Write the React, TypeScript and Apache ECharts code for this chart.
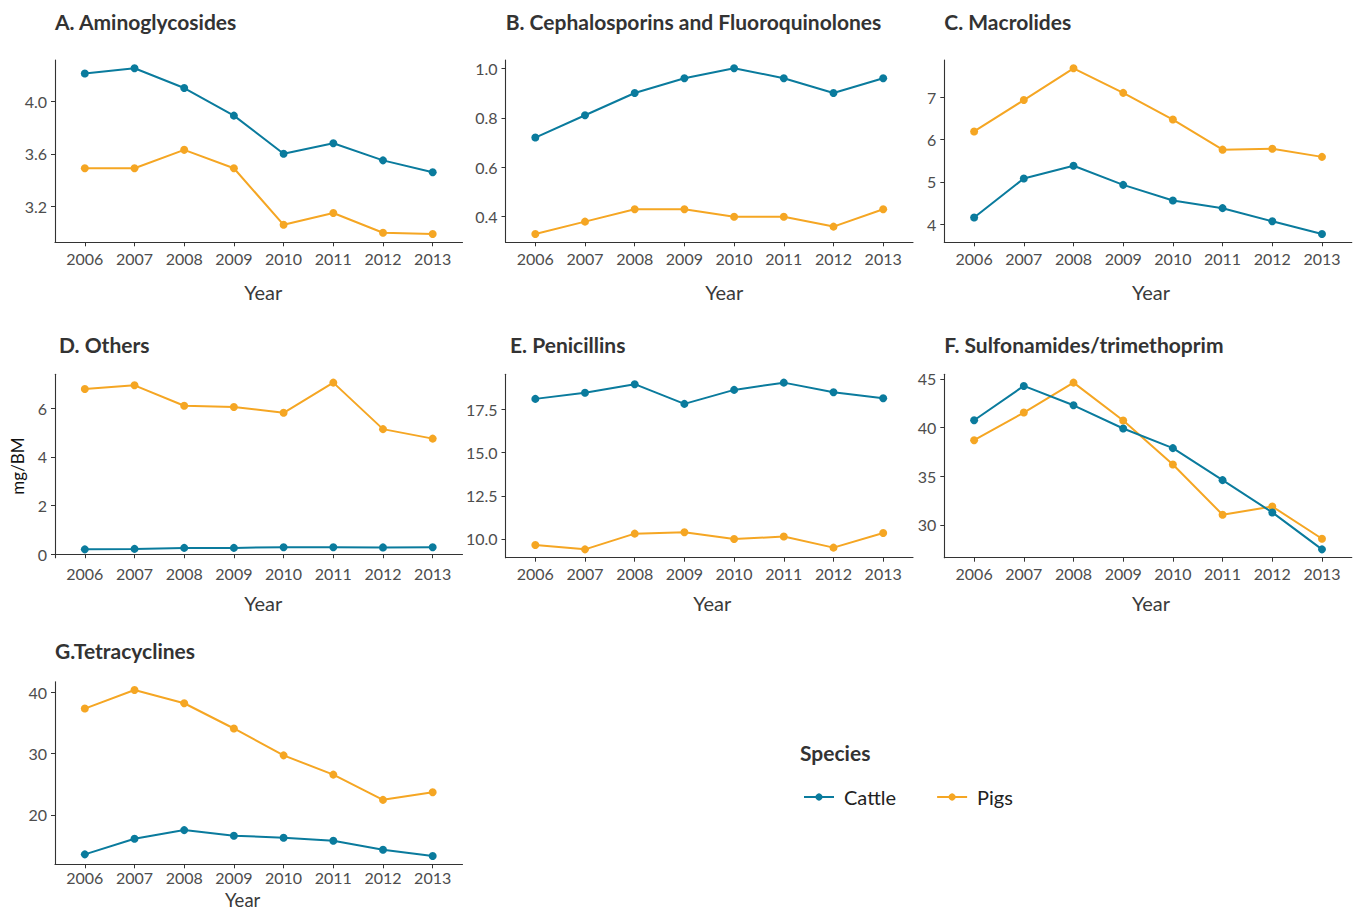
import React, { useEffect, useRef } from "react";
import * as echarts from "echarts";

const years = [2006, 2007, 2008, 2009, 2010, 2011, 2012, 2013];

const aminoCattle = [4.21, 4.25, 4.1, 3.89, 3.6, 3.68, 3.55, 3.46];
const aminoPigs = [3.49, 3.49, 3.63, 3.49, 3.06, 3.15, 3.0, 2.99];
const cephCattle = [0.72, 0.81, 0.9, 0.96, 1.0, 0.96, 0.9, 0.96];
const cephPigs = [0.33, 0.38, 0.43, 0.43, 0.4, 0.4, 0.36, 0.43];
const macroCattle = [4.16, 5.08, 5.38, 4.93, 4.56, 4.38, 4.07, 3.77];
const macroPigs = [6.19, 6.93, 7.68, 7.1, 6.47, 5.76, 5.78, 5.59];
const othersCattle = [0.2, 0.22, 0.26, 0.26, 0.29, 0.29, 0.28, 0.29];
const othersPigs = [6.79, 6.94, 6.1, 6.05, 5.81, 7.05, 5.14, 4.75];
const penCattle = [18.11, 18.46, 18.96, 17.82, 18.63, 19.05, 18.49, 18.15];
const penPigs = [9.65, 9.4, 10.31, 10.39, 10.0, 10.14, 9.5, 10.35];
const sulfaCattle = [40.75, 44.28, 42.29, 39.9, 37.88, 34.59, 31.27, 27.47];
const sulfaPigs = [38.7, 41.54, 44.62, 40.72, 36.2, 31.03, 31.88, 28.56];
const tetraCattle = [13.53, 16.09, 17.5, 16.58, 16.25, 15.76, 14.29, 13.26];
const tetraPigs = [37.39, 40.43, 38.26, 34.13, 29.73, 26.58, 22.45, 23.7];

const panelTitles = [
  "A. Aminoglycosides",
  "B. Cephalosporins and Fluoroquinolones",
  "C. Macrolides",
  "D. Others",
  "E. Penicillins",
  "F. Sulfonamides/trimethoprim",
  "G.Tetracyclines",
];
const cattleSeries = [aminoCattle, cephCattle, macroCattle, othersCattle, penCattle, sulfaCattle, tetraCattle];
const pigsSeries = [aminoPigs, cephPigs, macroPigs, othersPigs, penPigs, sulfaPigs, tetraPigs];
const yTicks = [
  [3.2, 3.6, 4.0],
  [0.4, 0.6, 0.8, 1.0],
  [4, 5, 6, 7],
  [0, 2, 4, 6],
  [10, 12.5, 15, 17.5],
  [30, 35, 40, 45],
  [20, 30, 40],
];
const yDecimals = [1, 1, 0, 0, 1, 0, 0];
const speciesNames = ["Cattle", "Pigs"];
const xAxisTitle = "Year";
const yAxisTitle = "mg/BM";
const legendTitle = "Species";

// layout
const colLeft = [55, 505.5, 944.3];
const rowTop = [60, 374.3, 681.7];
const rowBottom = [242.3, 557.7, 864.3];
const plotWidth = 407.5;
const titleX = [55, 505.7, 944.3, 59, 510, 944.3, 55];
const titleY = [21, 21, 21, 344, 344, 344, 650];
const yearX = [263.3, 724.3, 1151, 263.3, 712.3, 1151, 242.7];
const yearY = [291.7, 291.7, 291.7, 603.3, 603.3, 603.3, 899.5];
const yearSize = [20, 20, 20, 20, 20, 20, 18.5];
const xLabelMargin = [8, 8, 5];

const CATTLE = "#0a7b9d";
const PIGS = "#f5a623";
const FONT = "Lato, 'Open Sans', sans-serif";

export default function App() {
  const ref = useRef<HTMLDivElement>(null);
  useEffect(() => {
    if (!ref.current) return;
    const chart = echarts.init(ref.current, null, { renderer: "svg" });
    const grids: any[] = [];
    const xAxes: any[] = [];
    const yAxes: any[] = [];
    const series: any[] = [];
    const graphics: any[] = [];
    panelTitles.forEach((t, i) => {
      const row = Math.floor(i / 3);
      const col = i % 3;
      grids.push({
        left: colLeft[col],
        top: rowTop[row],
        width: plotWidth,
        height: rowBottom[row] - rowTop[row],
        containLabel: false,
      });
      const all = cattleSeries[i].concat(pigsSeries[i]);
      const lo = Math.min(...all);
      const hi = Math.max(...all);
      const pad = (hi - lo) * 0.05;
      xAxes.push({
        type: "value",
        gridIndex: i,
        min: 2005.4,
        max: 2013.6,
        axisLine: { show: true, lineStyle: { color: "#333", width: 1.1 } },
        axisTick: { show: true, length: 4, customValues: years, lineStyle: { color: "#333" } },
        axisLabel: {
          customValues: years,
          margin: xLabelMargin[row],
          fontSize: 16,
          color: "#4d4d4d",
          fontFamily: FONT,
          formatter: (v: number) => String(v),
        },
        splitLine: { show: false },
      });
      yAxes.push({
        type: "value",
        gridIndex: i,
        min: lo - pad,
        max: hi + pad,
        name: i === 3 ? yAxisTitle : "",
        nameLocation: "middle",
        nameRotate: 90,
        nameGap: 29,
        nameTextStyle: { fontSize: 17, color: "#111", fontFamily: FONT },
        axisLine: { show: true, lineStyle: { color: "#333", width: 1.1 } },
        axisTick: { show: true, length: 4, customValues: yTicks[i], lineStyle: { color: "#333" } },
        axisLabel: {
          customValues: yTicks[i],
          margin: 8,
          fontSize: 16,
          color: "#4d4d4d",
          fontFamily: FONT,
          formatter: (v: number) => v.toFixed(yDecimals[i]),
        },
        splitLine: { show: false },
      });
      [cattleSeries[i], pigsSeries[i]].forEach((vals, k) => {
        series.push({
          type: "line",
          name: speciesNames[k],
          xAxisIndex: i,
          yAxisIndex: i,
          data: years.map((y, j) => [y, vals[j]]),
          symbol: "circle",
          symbolSize: 8,
          lineStyle: { width: 2, color: k === 0 ? CATTLE : PIGS },
          itemStyle: { color: k === 0 ? CATTLE : PIGS },
          z: k === 0 ? 3 : 2,
        });
      });
      graphics.push({
        type: "text",
        x: titleX[i],
        y: titleY[i],
        style: {
          text: t,
          fontSize: 21,
          fontWeight: "bold",
          fontFamily: FONT,
          fill: "#333",
          verticalAlign: "middle",
        },
      });
      graphics.push({
        type: "text",
        x: yearX[i],
        y: yearY[i],
        style: {
          text: xAxisTitle,
          fontSize: yearSize[i],
          fontFamily: FONT,
          fill: "#3a3a3a",
          align: "center",
          verticalAlign: "middle",
        },
      });
    });
    graphics.push({
      type: "text",
      x: 800,
      y: 752,
      style: {
        text: legendTitle,
        fontSize: 21,
        fontWeight: "bold",
        fontFamily: FONT,
        fill: "#333",
        verticalAlign: "middle",
      },
    });
    chart.setOption({
      animation: false,
      backgroundColor: "#fff",
      grid: grids,
      xAxis: xAxes,
      yAxis: yAxes,
      series,
      graphic: graphics,
      legend: {
        data: speciesNames,
        left: 798,
        top: 782,
        itemWidth: 30,
        itemHeight: 9,
        itemGap: 40,
        textStyle: { fontSize: 20, color: "#222", fontFamily: FONT, padding: [0, 0, 0, 5] },
        selectedMode: false,
      },
    });
    return () => chart.dispose();
  }, []);
  return (
    <div
      ref={ref}
      style={{ position: "fixed", left: 0, top: 0, width: 1358, height: 911 }}
    />
  );
}
